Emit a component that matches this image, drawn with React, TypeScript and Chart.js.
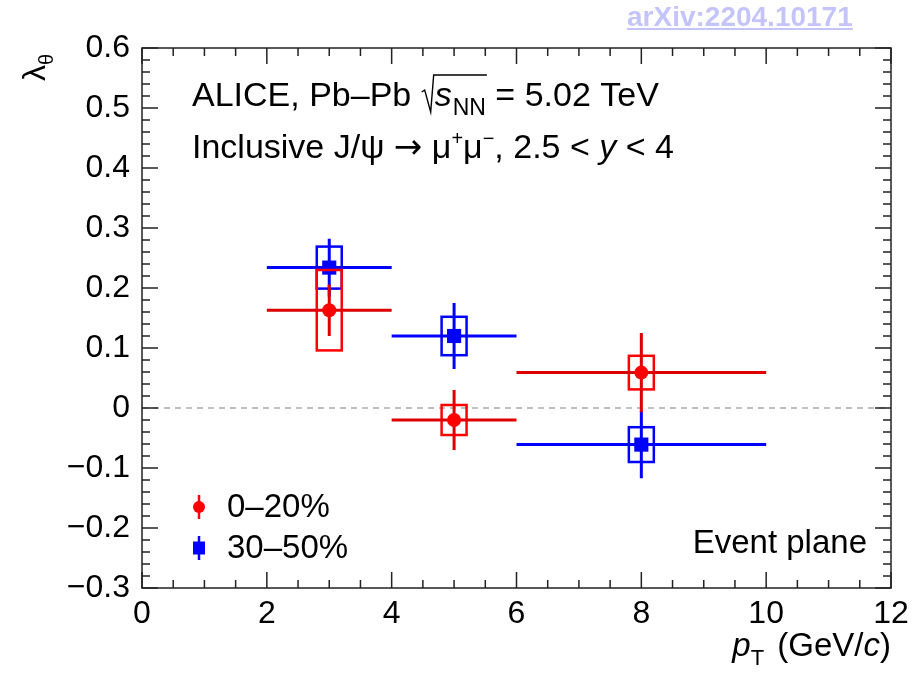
import React, { useEffect, useRef } from "react";
import { Chart, registerables } from "chart.js";

Chart.register(...registerables);

// ---- data ----
const ptCenters = [3, 5, 8];
const ptLow = [2, 4, 6];
const ptHigh = [4, 6, 10];

const lambdaCentral = [0.163, -0.02, 0.059]; // 0–20%
const statCentral = [0.043, 0.05, 0.066];
const sysCentral = [0.067, 0.025, 0.028];

const lambdaSemi = [0.234, 0.12, -0.061]; // 30–50%
const statSemi = [0.048, 0.055, 0.056];
const sysSemi = [0.035, 0.032, 0.029];

const seriesLabels = ["0–20%", "30–50%"];
const xTickValues = [0, 2, 4, 6, 8, 10, 12];

const FONT = "'Liberation Sans', Arial, Helvetica, 'DejaVu Sans', sans-serif";
const ARROW_FONT = "'DejaVu Sans', sans-serif";
const RED = "#ff0000";
const RED_LINE = "#dd0000";
const BLUE = "#0000ff";
const BOX_HALF = 0.2;

function fmtY(v: number) {
  const n = Math.round(v * 10) / 10;
  if (Math.abs(n) < 1e-9) return "0";
  return (n < 0 ? "\u2212" : "") + Math.abs(n).toFixed(1);
}

const series = [
  { y: lambdaCentral, stat: statCentral, sys: sysCentral, color: RED, line: RED_LINE },
  { y: lambdaSemi, stat: statSemi, sys: sysSemi, color: BLUE, line: BLUE },
];

function fontOf(p: any) {
  const size = p.size || 34;
  return `${p.italic ? "italic " : ""}${size}px ${p.family || FONT}`;
}

function drawPieces(ctx: CanvasRenderingContext2D, x: number, y: number, pieces: any[]) {
  let cx = x;
  for (const p of pieces) {
    ctx.font = fontOf(p);
    ctx.fillText(p.t, cx + (p.before || 0), y + (p.dy || 0));
    cx += ctx.measureText(p.t).width + (p.after || 0) + (p.before || 0);
  }
  return cx;
}

function measurePieces(ctx: CanvasRenderingContext2D, pieces: any[]) {
  let w = 0;
  for (const p of pieces) {
    ctx.font = fontOf(p);
    w += ctx.measureText(p.t).width + (p.after || 0) + (p.before || 0);
  }
  return w;
}

const alicePlugin = {
  id: "alicePlugin",
  beforeDraw(chart: any) {
    const ctx = chart.ctx;
    ctx.save();
    ctx.fillStyle = "#ffffff";
    ctx.fillRect(0, 0, chart.width, chart.height);
    ctx.restore();
  },
  beforeDatasetsDraw(chart: any) {
    const { ctx, chartArea, scales } = chart;
    const y0 = scales.y.getPixelForValue(0);
    ctx.save();
    ctx.strokeStyle = "#aaaaaa";
    ctx.lineWidth = 1.5;
    ctx.setLineDash([6, 5]);
    ctx.beginPath();
    ctx.moveTo(chartArea.left, y0);
    ctx.lineTo(chartArea.right, y0);
    ctx.stroke();
    ctx.restore();
  },
  beforeDatasetDraw(chart: any, args: any) {
    const s = series[args.index];
    if (!s) return;
    const { ctx, scales } = chart;
    const xs = scales.x;
    const ys = scales.y;
    ctx.save();
    for (let i = 0; i < ptCenters.length; i++) {
      const xc = ptCenters[i];
      const yv = s.y[i];
      // systematic box
      ctx.strokeStyle = s.color;
      ctx.lineWidth = 2.5;
      const bx1 = xs.getPixelForValue(xc - BOX_HALF);
      const bx2 = xs.getPixelForValue(xc + BOX_HALF);
      const by1 = ys.getPixelForValue(yv + s.sys[i]);
      const by2 = ys.getPixelForValue(yv - s.sys[i]);
      ctx.strokeRect(bx1, by1, bx2 - bx1, by2 - by1);
      // stat error + bin width
      ctx.strokeStyle = s.line;
      ctx.lineWidth = 3;
      const px = xs.getPixelForValue(xc);
      const py = ys.getPixelForValue(yv);
      ctx.beginPath();
      ctx.moveTo(px, ys.getPixelForValue(yv + s.stat[i]));
      ctx.lineTo(px, ys.getPixelForValue(yv - s.stat[i]));
      ctx.moveTo(xs.getPixelForValue(ptLow[i]), py);
      ctx.lineTo(xs.getPixelForValue(ptHigh[i]), py);
      ctx.stroke();
    }
    ctx.restore();
  },
  afterDraw(chart: any) {
    const { ctx, chartArea, scales } = chart;
    const { left, right, top, bottom } = chartArea;
    const xs = scales.x;
    const ys = scales.y;
    ctx.save();
    // frame
    ctx.strokeStyle = "#222222";
    ctx.lineWidth = 1.5;
    ctx.strokeRect(left, top, right - left, bottom - top);
    // ticks
    ctx.beginPath();
    for (let k = 0; k <= 24; k++) {
      const v = k * 0.5;
      const px = xs.getPixelForValue(v);
      const len = k % 4 === 0 ? 16 : 8;
      ctx.moveTo(px, bottom);
      ctx.lineTo(px, bottom - len);
      ctx.moveTo(px, top);
      ctx.lineTo(px, top + len);
    }
    for (let k = 0; k <= 45; k++) {
      const v = -0.3 + k * 0.02;
      const py = ys.getPixelForValue(v);
      const len = k % 5 === 0 ? 16 : 8;
      ctx.moveTo(left, py);
      ctx.lineTo(left + len, py);
      ctx.moveTo(right, py);
      ctx.lineTo(right - len, py);
    }
    ctx.stroke();

    ctx.fillStyle = "#000000";
    ctx.textBaseline = "alphabetic";
    ctx.textAlign = "left";

    // header line 1
    let x = drawPieces(ctx, 192, 106, [{ t: "ALICE, Pb\u2013Pb " }]);
    // radical
    const sStart = x + 14;
    const afterS = drawPieces(ctx, sStart, 106, [
      { t: "s", italic: true, after: 1 },
      { t: "NN", size: 23, dy: 9 },
    ]);
    ctx.lineWidth = 1.4;
    ctx.strokeStyle = "#000";
    ctx.beginPath();
    ctx.moveTo(x + 1, 92);
    ctx.lineTo(x + 4, 90);
    ctx.lineTo(x + 10, 112);
    ctx.lineTo(x + 13, 75);
    ctx.lineTo(afterS + 1, 75);
    ctx.stroke();
    drawPieces(ctx, afterS, 106, [{ t: " = 5.02 TeV" }]);

    // header line 2
    drawPieces(ctx, 192, 158, [
      { t: "Inclusive J/\u03c8 " },
      { t: "\u2192", family: ARROW_FONT, size: 34 },
      { t: " \u03bc" },
      { t: "+", size: 20, dy: -13 },
      { t: "\u03bc" },
      { t: "\u2212", size: 20, dy: -13 },
      { t: ", 2.5 < " },
      { t: "y", italic: true },
      { t: " < 4" },
    ]);

    // Event plane
    ctx.font = `33px ${FONT}`;
    ctx.textAlign = "right";
    ctx.fillText("Event plane", 867, 553);
    ctx.textAlign = "left";

    // legend
    const legY = [507, 548];
    for (let i = 0; i < 2; i++) {
      const s = series[i];
      const cy = legY[i];
      ctx.strokeStyle = s.color;
      ctx.lineWidth = 2.5;
      ctx.beginPath();
      ctx.moveTo(199, cy - 12);
      ctx.lineTo(199, cy + 12);
      ctx.stroke();
      ctx.fillStyle = s.color;
      if (i === 0) {
        ctx.beginPath();
        ctx.arc(199, cy, 6, 0, Math.PI * 2);
        ctx.fill();
      } else {
        ctx.fillRect(193, cy - 6.5, 12, 13);
      }
      ctx.fillStyle = "#000";
      ctx.font = `33px ${FONT}`;
      ctx.fillText(seriesLabels[i], 227, cy + 10);
    }

    // x-axis title
    const xt = [
      { t: "p", italic: true, size: 33 },
      { t: "T", size: 22, dy: 9, after: 4 },
      { t: " (GeV/", size: 33 },
      { t: "c", italic: true, size: 33 },
      { t: ")", size: 33 },
    ];
    const wX = measurePieces(ctx, xt);
    drawPieces(ctx, 891 - wX, 656, xt);

    // y-axis title
    ctx.save();
    ctx.translate(45, 81);
    ctx.rotate(-Math.PI / 2);
    drawPieces(ctx, 0, 0, [
      { t: "\u03bb", size: 32, after: 0 },
      { t: "\u03b8", size: 20, dy: 8 },
    ]);
    ctx.restore();

    ctx.restore();
  },
};

export default function App() {
  const ref = useRef<HTMLCanvasElement | null>(null);
  useEffect(() => {
    if (!ref.current) return;
    const chart = new Chart(ref.current, {
      type: "scatter",
      data: {
        datasets: [
          {
            label: seriesLabels[0],
            data: ptCenters.map((x, i) => ({ x, y: lambdaCentral[i] })),
            pointStyle: "circle",
            pointRadius: 7,
            pointBackgroundColor: RED,
            pointBorderWidth: 0,
            showLine: false,
          },
          {
            label: seriesLabels[1],
            data: ptCenters.map((x, i) => ({ x, y: lambdaSemi[i] })),
            pointStyle: "rect",
            pointRadius: 10,
            pointBackgroundColor: BLUE,
            pointBorderWidth: 0,
            showLine: false,
          },
        ],
      },
      options: {
        animation: false,
        responsive: false,
        maintainAspectRatio: false,
        devicePixelRatio: 1,
        layout: { padding: { top: 48, right: 29, left: 0, bottom: 0 } },
        plugins: { legend: { display: false }, tooltip: { enabled: false } },
        events: [],
        scales: {
          x: {
            type: "linear",
            min: 0,
            max: 12,
            position: "bottom",
            grid: { display: false, drawTicks: false },
            border: { display: false },
            afterBuildTicks: (s: any) => {
              s.ticks = xTickValues.map((v) => ({ value: v }));
            },
            ticks: {
              color: "#000",
              font: { size: 32, family: FONT },
              padding: 7,
              maxRotation: 0,
              autoSkip: false,
              callback: (v: any) => String(v),
            },
            afterFit: (s: any) => {
              s.height = 91;
            },
          },
          y: {
            type: "linear",
            min: -0.3,
            max: 0.6,
            grid: { display: false, drawTicks: false },
            border: { display: false },
            ticks: {
              color: "#000",
              stepSize: 0.1,
              font: { size: 32, family: FONT },
              padding: 12,
              autoSkip: false,
              callback: (v: any) => fmtY(Number(v)),
            },
            afterFit: (s: any) => {
              s.width = 142;
            },
          },
        },
      },
      plugins: [alicePlugin],
    } as any);
    return () => chart.destroy();
  }, []);

  return (
    <div style={{ position: "absolute", left: 0, top: 0, width: 920, height: 679, background: "#fff" }}>
      <canvas ref={ref} width={920} height={679} style={{ display: "block" }} />
      <div
        style={{
          position: "absolute",
          left: 627,
          top: 1,
          fontFamily: FONT,
          fontWeight: "bold",
          fontSize: 28,
          lineHeight: "32px",
          color: "#c4c4fa",
          textDecoration: "underline",
        }}
      >
        arXiv:2204.10171
      </div>
    </div>
  );
}
